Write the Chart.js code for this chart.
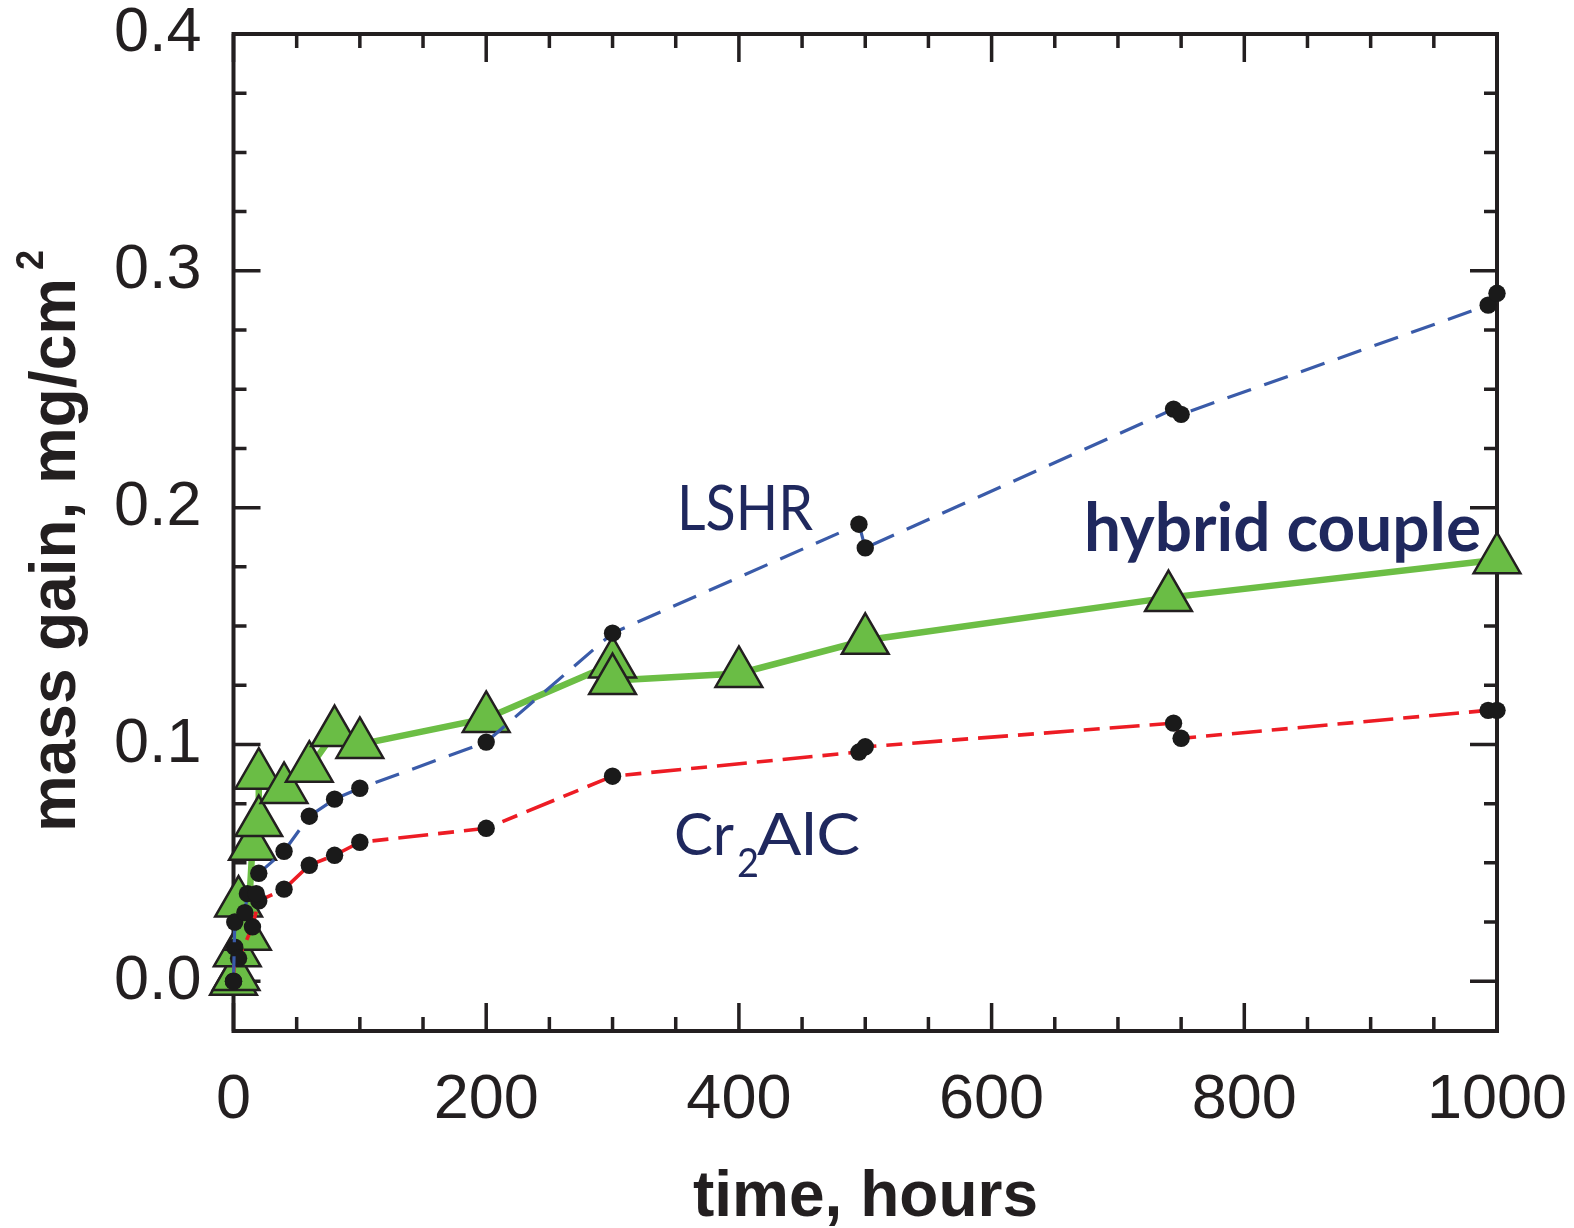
<!DOCTYPE html>
<html>
<head>
<meta charset="utf-8">
<script src="https://cdn.jsdelivr.net/npm/chart.js@4"></script>
<style>
html, body { margin: 0; padding: 0; background: #fff; }
canvas { display: block; }
</style>
</head>
<body>
<canvas id="myChart" width="1574" height="1228"></canvas>
<script>
// LSHR (blue dashed)
var lshrTime = [0, 1, 9, 11, 18, 20, 40, 60, 80, 100, 200, 300, 495, 500, 744, 750, 993, 1000];
var lshrGain = [0, 0.025, 0.029, 0.037, 0.037, 0.0456, 0.0549, 0.0697, 0.0769, 0.0815, 0.101, 0.147, 0.193, 0.183, 0.2416, 0.2394, 0.2855, 0.2905];

// Cr2AlC (red dashed)
var cralcTime = [0, 1, 4, 15, 20, 40, 60, 80, 100, 200, 300, 495, 500, 744, 750, 993, 1000];
var cralcGain = [0, 0.0144, 0.0097, 0.023, 0.034, 0.0389, 0.049, 0.0532, 0.0587, 0.0646, 0.0866, 0.0968, 0.099, 0.109, 0.1026, 0.1144, 0.1144];

// hybrid couple (green, triangles)
var hybridTime = [0, 2, 3, 4, 11, 15, 20, 20, 40, 60, 80, 100, 200, 300, 300, 400, 500, 740, 1000];
var hybridGain = [0, 0.002, 0.012, 0.033, 0.019, 0.057, 0.067, 0.087, 0.081, 0.090, 0.105, 0.100, 0.111, 0.134, 0.127, 0.130, 0.144, 0.162, 0.178];

var xTickLabels = ['0', '200', '400', '600', '800', '1000'];
var yTickLabels = ['0.0', '0.1', '0.2', '0.3', '0.4'];
var xMinorStep = 50;
var yMinorStep = 0.025;

var xTickVals = xTickLabels.map(Number);
var yTickVals = yTickLabels.map(Number);

function toPoints(xs, ys) {
    var pts = [];
    for (var i = 0; i < xs.length; i++) {
        pts.push({x: xs[i], y: ys[i]});
    }
    return pts;
}

function fitText(ctx, text, x, y, w) {
    var mw = ctx.measureText(text).width;
    ctx.save();
    ctx.translate(x, y);
    ctx.scale(w / mw, 1);
    ctx.fillText(text, 0, 0);
    ctx.restore();
}

function noPadding(scale) {
    scale.paddingTop = 0;
    scale.paddingBottom = 0;
    scale.paddingLeft = 0;
    scale.paddingRight = 0;
}

var ink = '#231f20';
var navy = '#1f285e';

var framePlugin = {
    id: 'frame',
    beforeDatasetsDraw: function (chart) {
        var ctx = chart.ctx, a = chart.chartArea;
        var xs = chart.scales.x, ys = chart.scales.y;
        ctx.save();
        ctx.strokeStyle = ink;
        ctx.lineWidth = 4;
        ctx.strokeRect(a.left, a.top, a.right - a.left, a.bottom - a.top);
        ctx.lineWidth = 3.5;
        ctx.beginPath();
        var xMax = xTickVals[xTickVals.length - 1];
        for (var v = 0; v <= xMax + 1e-6; v += xMinorStep) {
            var px = xs.getPixelForValue(v);
            var len = (xTickVals.indexOf(v) >= 0) ? 28 : 14;
            ctx.moveTo(px, a.bottom);
            ctx.lineTo(px, a.bottom - len);
            ctx.moveTo(px, a.top);
            ctx.lineTo(px, a.top + len);
        }
        var n = Math.round(yTickVals[yTickVals.length - 1] / yMinorStep);
        for (var k = 0; k <= n; k++) {
            var py = ys.getPixelForValue(k * yMinorStep);
            var ylen = (k % 4 === 0) ? 27 : 13;
            ctx.moveTo(a.left, py);
            ctx.lineTo(a.left + ylen, py);
            ctx.moveTo(a.right, py);
            ctx.lineTo(a.right - ylen, py);
        }
        ctx.stroke();
        ctx.restore();
    },
    afterDraw: function (chart) {
        var ctx = chart.ctx;
        ctx.save();
        ctx.textAlign = 'left';
        ctx.textBaseline = 'alphabetic';

        // axis titles
        ctx.fillStyle = ink;
        ctx.font = 'bold 64px "Liberation Sans", Arial, sans-serif';
        fitText(ctx, 'time, hours', 693, 1216, 345);

        ctx.save();
        ctx.translate(75, 832);
        ctx.rotate(-Math.PI / 2);
        ctx.font = 'bold 64px "Liberation Sans", Arial, sans-serif';
        fitText(ctx, 'mass gain, mg/cm', 0, 0, 554);
        ctx.font = 'bold 39px "Liberation Sans", Arial, sans-serif';
        fitText(ctx, '2', 562, -32, 20);
        ctx.restore();

        // series labels
        ctx.fillStyle = navy;
        ctx.font = '62px Lato, "Open Sans", sans-serif';
        fitText(ctx, 'LSHR', 677, 530, 136);

        ctx.font = 'bold 66px Lato, "Open Sans", sans-serif';
        fitText(ctx, 'hybrid couple', 1084, 551, 397);

        ctx.font = '59px Lato, "Open Sans", sans-serif';
        fitText(ctx, 'Cr', 674, 855, 60);
        ctx.font = '40px Lato, "Open Sans", sans-serif';
        fitText(ctx, '2', 737, 877, 22);
        ctx.font = '59px Lato, "Open Sans", sans-serif';
        fitText(ctx, 'AlC', 757, 855, 103);
        ctx.restore();
    }
};

var tickFont = {family: '"Liberation Sans", Arial, sans-serif', size: 63, lineHeight: 1};

var ctx = document.getElementById("myChart").getContext('2d');
var myChart = new Chart(ctx, {
    type: 'line',
    data: {
        datasets: [
            {
                label: 'LSHR',
                data: toPoints(lshrTime, lshrGain),
                borderColor: '#3a5ba9',
                borderWidth: 3.2,
                borderDash: [25, 14],
                pointRadius: 8.7,
                pointBackgroundColor: '#1a1a1a',
                pointBorderWidth: 0,
                tension: 0,
                clip: false,
                order: 1
            },
            {
                label: 'Cr2AlC',
                data: toPoints(cralcTime, cralcGain),
                borderColor: '#ed1c24',
                borderWidth: 3.6,
                borderDash: [30, 10, 16, 10],
                pointRadius: 8.7,
                pointBackgroundColor: '#1a1a1a',
                pointBorderWidth: 0,
                tension: 0,
                clip: false,
                order: 2
            },
            {
                label: 'hybrid couple',
                data: toPoints(hybridTime, hybridGain),
                borderColor: '#6cbe45',
                borderWidth: 6.5,
                pointStyle: 'triangle',
                pointRadius: 27,
                pointBackgroundColor: '#6abd45',
                pointBorderColor: ink,
                pointBorderWidth: 2.5,
                tension: 0,
                clip: false,
                order: 3
            }
        ]
    },
    options: {
        responsive: false,
        animation: false,
        devicePixelRatio: 1,
        layout: {padding: {left: 0, right: 77, top: 34, bottom: 0}},
        plugins: {
            legend: {display: false},
            tooltip: {enabled: false}
        },
        scales: {
            x: {
                type: 'linear',
                min: xTickVals[0],
                max: xTickVals[xTickVals.length - 1],
                grid: {display: false, drawTicks: false},
                border: {display: false},
                afterBuildTicks: function (scale) {
                    scale.ticks = xTickVals.map(function (v) { return {value: v}; });
                },
                afterFit: function (scale) {
                    scale.height = 197;
                    noPadding(scale);
                },
                ticks: {
                    autoSkip: false,
                    maxRotation: 0,
                    padding: 38,
                    color: ink,
                    font: tickFont,
                    callback: function (value, index) { return xTickLabels[index]; }
                }
            },
            y: {
                type: 'linear',
                min: -0.021,
                max: yTickVals[yTickVals.length - 1],
                grid: {display: false, drawTicks: false},
                border: {display: false},
                afterBuildTicks: function (scale) {
                    scale.ticks = yTickVals.map(function (v) { return {value: v}; });
                },
                afterFit: function (scale) {
                    scale.width = 233.5;
                    noPadding(scale);
                },
                ticks: {
                    autoSkip: false,
                    padding: 32,
                    color: ink,
                    font: tickFont,
                    callback: function (value, index) { return yTickLabels[index]; }
                }
            }
        }
    },
    plugins: [framePlugin]
});
</script>
</body>
</html>
